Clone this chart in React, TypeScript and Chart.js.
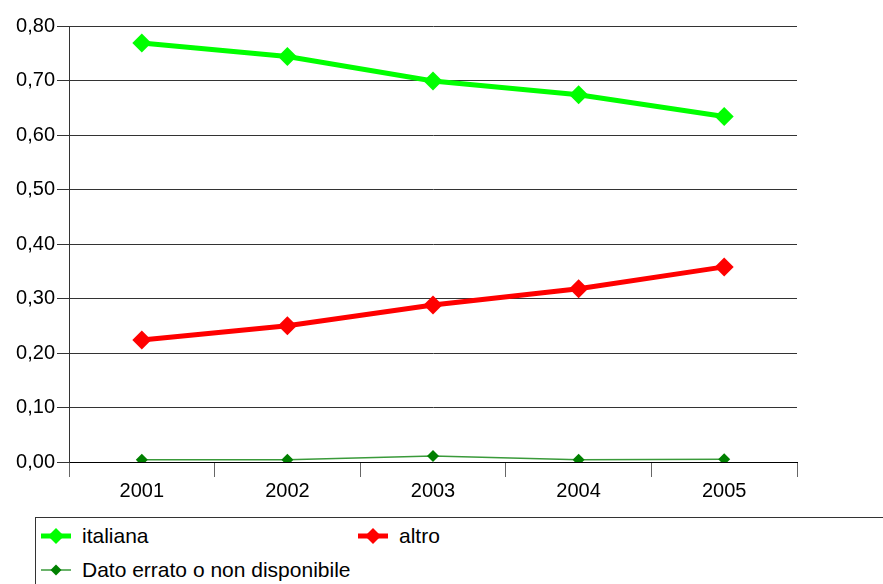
import React, { useEffect, useRef } from "react";
import { Chart, registerables } from "chart.js";

Chart.register(...registerables);

const years = ["2001", "2002", "2003", "2004", "2005"];
const italiana = [0.769, 0.744, 0.699, 0.674, 0.634];
const altro = [0.224, 0.25, 0.288, 0.318, 0.358];
const datoErrato = [0.004, 0.004, 0.011, 0.004, 0.005];

const FONT = '"Liberation Sans", Arial, sans-serif';

const fmt = (v: number) => v.toFixed(2).replace(".", ",");

function Marker({ color, lineColor, lineWidth, r }: { color: string; lineColor: string; lineWidth: number; r: number }) {
  return (
    <svg width={30} height={20} style={{ display: "block" }}>
      <line x1={0} y1={10} x2={30} y2={10} stroke={lineColor} strokeWidth={lineWidth} />
      <polygon points={`${15 - r},10 15,${10 - r} ${15 + r},10 15,${10 + r}`} fill={color} />
    </svg>
  );
}

export default function App() {
  const ref = useRef<HTMLCanvasElement | null>(null);

  useEffect(() => {
    if (!ref.current) return;
    const chart = new Chart(ref.current, {
      type: "line",
      data: {
        labels: years,
        datasets: [
          {
            label: "italiana",
            data: italiana,
            borderColor: "#00ff00",
            backgroundColor: "#00ff00",
            borderWidth: 5,
            pointStyle: "rectRot",
            pointRadius: 9.5,
            pointBorderWidth: 0,
            tension: 0,
          },
          {
            label: "altro",
            data: altro,
            borderColor: "#ff0000",
            backgroundColor: "#ff0000",
            borderWidth: 5,
            pointStyle: "rectRot",
            pointRadius: 9.5,
            pointBorderWidth: 0,
            tension: 0,
          },
          {
            label: "Dato errato o non disponibile",
            data: datoErrato,
            borderColor: "#3a9a3a",
            backgroundColor: "#008000",
            borderWidth: 1.5,
            pointStyle: "rectRot",
            pointRadius: 6,
            pointBorderWidth: 0,
            tension: 0,
          },
        ],
      },
      options: {
        animation: false,
        responsive: false,
        maintainAspectRatio: false,
        layout: { padding: { top: 26, right: 86, left: 0, bottom: 0 } },
        plugins: { legend: { display: false }, tooltip: { enabled: false } },
        scales: {
          x: {
            offset: true,
            grid: {
              offset: true,
              drawOnChartArea: false,
              drawTicks: true,
              tickLength: 15,
              color: "#666",
              lineWidth: 1,
            },
            border: { display: true, color: "#000", width: 1 },
            ticks: {
              color: "#000",
              font: { family: FONT, size: 20 },
              padding: 2,
            },
            afterFit: (s: any) => {
              s.height = 48;
            },
          },
          y: {
            min: 0,
            max: 0.8,
            grid: {
              color: "#333",
              lineWidth: 1,
              drawTicks: true,
              tickLength: 12,
            },
            border: { display: true, color: "#333", width: 1 },
            ticks: {
              stepSize: 0.1,
              color: "#000",
              font: { family: FONT, size: 20 },
              padding: 2,
              callback: (v: any) => fmt(Number(v)),
            },
            afterFit: (s: any) => {
              s.width = 69;
            },
          },
        },
      },
    });
    return () => chart.destroy();
  }, []);

  const textStyle: React.CSSProperties = {
    fontFamily: FONT,
    fontSize: 21,
    color: "#000",
    whiteSpace: "nowrap",
    lineHeight: "24px",
  };

  return (
    <div style={{ position: "fixed", left: 0, top: 0, width: 883, height: 584, background: "#fff", overflow: "hidden" }}>
      <canvas ref={ref} width={883} height={510} style={{ position: "absolute", left: 0, top: 0, width: 883, height: 510 }} />
      <div
        style={{
          position: "absolute",
          left: 35,
          top: 517,
          width: 900,
          height: 100,
          border: "1px solid #333",
          boxSizing: "border-box",
        }}
      />
      <div style={{ position: "absolute", left: 41, top: 524, display: "flex", alignItems: "center" }}>
        <Marker color="#00ff00" lineColor="#00ff00" lineWidth={5} r={8} />
        <span style={{ ...textStyle, marginLeft: 11 }}>italiana</span>
      </div>
      <div style={{ position: "absolute", left: 358, top: 524, display: "flex", alignItems: "center" }}>
        <Marker color="#ff0000" lineColor="#ff0000" lineWidth={5} r={8} />
        <span style={{ ...textStyle, marginLeft: 11 }}>altro</span>
      </div>
      <div style={{ position: "absolute", left: 41, top: 558, display: "flex", alignItems: "center" }}>
        <Marker color="#008000" lineColor="#3a9a3a" lineWidth={1.5} r={5.5} />
        <span style={{ ...textStyle, marginLeft: 11 }}>Dato errato o non disponibile</span>
      </div>
    </div>
  );
}
